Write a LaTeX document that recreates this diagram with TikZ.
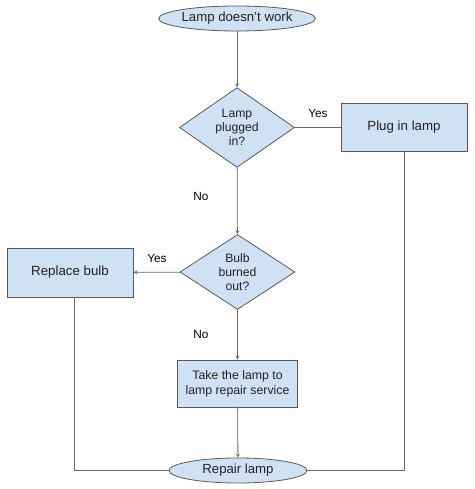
\documentclass[tikz,border=0pt]{standalone}
\usepackage{fontspec}
\setmainfont{Liberation Sans}
\usepackage{tikz}
\usetikzlibrary{shapes.geometric, arrows, positioning, calc}
\usepackage{xcolor}
\definecolor{boxblue}{RGB}{207,226,243}
\definecolor{edgegray}{RGB}{89,89,89}
\definecolor{linegray}{RGB}{102,102,102}
\definecolor{textdark}{RGB}{34,34,34}

\tikzset{
  terminal/.style={draw=edgegray, fill=boxblue, ellipse, inner sep=0pt, line width=0.8pt,
    text=textdark, font=\fontsize{13.2}{15}\selectfont},
  process/.style={draw=edgegray, fill=boxblue, rectangle, inner sep=0pt, line width=0.8pt,
    text=textdark, align=center},
  decision/.style={draw=edgegray, fill=boxblue, diamond, inner sep=0pt, line width=0.8pt,
    minimum width=115pt, minimum height=71pt, text=textdark, align=center,
    font=\fontsize{12.2}{14}\selectfont},
  flow/.style={draw=linegray, line width=0.8pt},
  answer/.style={font=\fontsize{11.8}{13}\selectfont, text=black}
}

\begin{document}
\begin{tikzpicture}[x=1pt, y=-1pt, >=stealth]
\useasboundingbox (0,0) rectangle (474,489);

% Start and end
\node[terminal, minimum width=134pt, minimum height=25pt] (start) at (237,18.5) {Lamp doesn't work};
\node[terminal, minimum width=138pt, minimum height=25pt] (repair) at (238,470.5) {Repair lamp};

% Questions
\node[decision] (plugged) at (237,127.5) {Lamp\\plugged\\in?};
\node[decision] (burned) at (237.5,272) {Bulb\\burned\\out?};

% Actions
\node[process, minimum width=126pt, minimum height=48pt, font=\fontsize{13.3}{15}\selectfont] (plugin) at (404,127.5) {Plug in lamp};
\node[process, minimum width=126pt, minimum height=49pt, font=\fontsize{13.3}{15}\selectfont] (replace) at (70,272.5) {Replace bulb};
\node[process, minimum width=120pt, minimum height=47pt, font=\fontsize{12.3}{15}\selectfont] (service) at (237.5,383.5) {Take the lamp to\\lamp repair service};

% Connectors
\draw[flow, ->] (start) -- (plugged);
\draw[flow] (plugged) -- (plugin);
\draw[flow, ->] (plugged) -- (burned);
\draw[flow, ->] (burned) -- (replace);
\draw[flow, ->] (burned) -- (service);
\draw[flow, ->] (service) -- (repair);
\draw[flow] (replace.south) ++(4,0) coordinate (replacefoot) |- (repair.west);
\draw[flow] (plugin.south) |- (repair.east);

% Answers
\node[answer] (yesplug) at (318,113) {Yes};
\node[answer] (noplug) at (201,196) {No};
\node[answer] (yesbulb) at (157,258) {Yes};
\node[answer] (nobulb) at (201,334) {No};

\end{tikzpicture}
\end{document}
